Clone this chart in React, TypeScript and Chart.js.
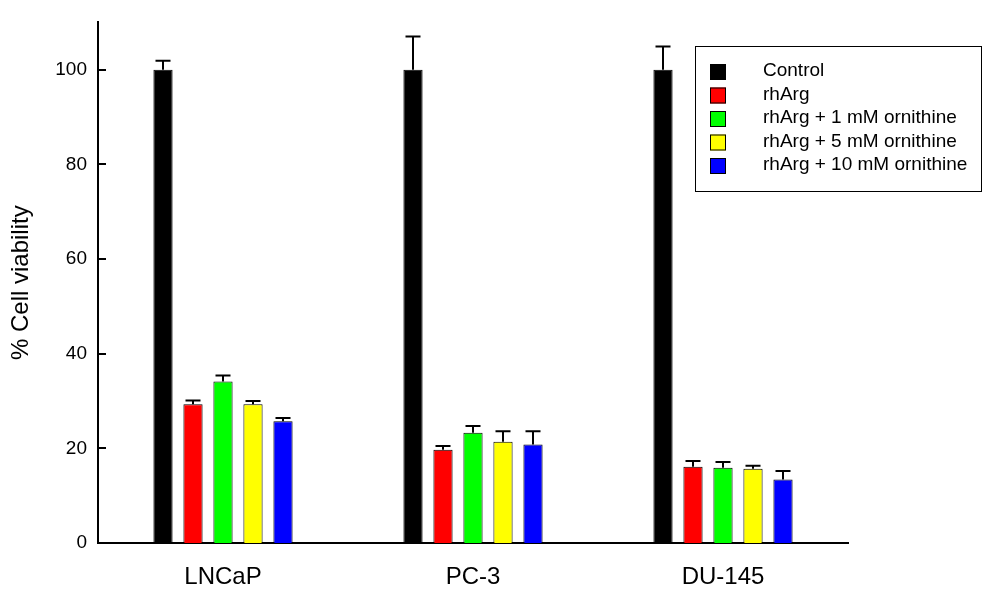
import { useEffect, useRef } from 'react';
import { Chart, registerables } from 'chart.js';

Chart.register(...registerables);

const cellLines = ['LNCaP', 'PC-3', 'DU-145'];
const treatments = [
  'Control',
  'rhArg',
  'rhArg + 1 mM ornithine',
  'rhArg + 5 mM ornithine',
  'rhArg + 10 mM ornithine',
];
const colors = ['#000000', '#ff0000', '#00ff00', '#ffff00', '#0000ff'];

// mean viability per treatment, one value per cell line
const control = [100, 100, 100];
const rhArg = [29.3, 19.7, 16.1];
const orn1 = [34.1, 23.3, 15.9];
const orn5 = [29.3, 21.4, 15.7];
const orn10 = [25.7, 20.8, 13.4];

// upper error bars (SEM)
const controlErr = [1.9, 7.0, 4.9];
const rhArgErr = [0.8, 0.8, 1.2];
const orn1Err = [1.3, 1.4, 1.2];
const orn5Err = [0.7, 2.2, 0.6];
const orn10Err = [0.7, 2.8, 1.8];

const yTicks = [0, 20, 40, 60, 80, 100];

const values = [control, rhArg, orn1, orn5, orn10];
const errors = [controlErr, rhArgErr, orn1Err, orn5Err, orn10Err];

const FONT = 'Arial, "Liberation Sans", sans-serif';

const errorBars = {
  id: 'errorBars',
  afterDatasetsDraw(chart: Chart) {
    const ctx = chart.ctx;
    const y = chart.scales.y;
    ctx.save();
    ctx.strokeStyle = '#000';
    ctx.lineWidth = 2;
    chart.data.datasets.forEach((ds: any, i: number) => {
      const meta = chart.getDatasetMeta(i);
      meta.data.forEach((bar: any, j: number) => {
        const top = y.getPixelForValue(ds.data[j] + ds.errors[j]);
        ctx.beginPath();
        ctx.moveTo(bar.x, bar.y);
        ctx.lineTo(bar.x, top);
        ctx.moveTo(bar.x - 7.5, top);
        ctx.lineTo(bar.x + 7.5, top);
        ctx.stroke();
      });
    });
    ctx.restore();
  },
};

// tick marks point into the plot area
const innerTicks = {
  id: 'innerTicks',
  afterDraw(chart: Chart) {
    const ctx = chart.ctx;
    const y = chart.scales.y;
    const left = chart.chartArea.left;
    ctx.save();
    ctx.strokeStyle = '#000';
    ctx.lineWidth = 2;
    yTicks.forEach((v) => {
      const py = Math.round(y.getPixelForValue(v));
      ctx.beginPath();
      ctx.moveTo(left, py);
      ctx.lineTo(left + 8, py);
      ctx.stroke();
    });
    ctx.restore();
  },
};

const boxLegend = {
  id: 'boxLegend',
  afterDraw(chart: Chart) {
    const ctx = chart.ctx;
    ctx.save();
    ctx.strokeStyle = '#000';
    ctx.lineWidth = 1;
    ctx.strokeRect(695.5, 46.5, 286, 145);
    ctx.font = `19px ${FONT}`;
    ctx.textBaseline = 'middle';
    ctx.textAlign = 'left';
    chart.data.datasets.forEach((ds: any, i: number) => {
      const top = 64 + i * 23.5;
      ctx.fillStyle = ds.backgroundColor;
      ctx.fillRect(710, top, 16, 16);
      ctx.strokeStyle = '#000';
      ctx.strokeRect(710.5, top + 0.5, 15, 15);
      ctx.fillStyle = '#000';
      ctx.fillText(ds.label, 763, top + 7);
    });
    ctx.restore();
  },
};

export default function App() {
  const chartRef = useRef<HTMLCanvasElement>(null);
  const chartInstance = useRef<Chart | null>(null);

  useEffect(() => {
    document.body.style.margin = '0';
    if (!chartRef.current) return;
    const ctx = chartRef.current.getContext('2d');
    if (!ctx) return;

    if (chartInstance.current) {
      chartInstance.current.destroy();
    }

    chartInstance.current = new Chart(ctx, {
      type: 'bar',
      data: {
        labels: cellLines,
        datasets: treatments.map((t, i) => ({
          label: t,
          data: values[i],
          errors: errors[i],
          backgroundColor: colors[i],
          borderColor: '#000',
          borderWidth: 1,
          categoryPercentage: 0.6,
          barPercentage: 0.64,
        })) as any,
      },
      options: {
        responsive: true,
        maintainAspectRatio: false,
        animation: false,
        layout: { padding: { left: 0, top: 20, right: 146, bottom: 0 } },
        plugins: {
          legend: { display: false },
          tooltip: { enabled: false },
        },
        scales: {
          x: {
            grid: { display: false, drawTicks: false },
            border: { display: true, color: '#000', width: 2 },
            ticks: {
              color: '#000',
              padding: 20,
              font: { family: FONT, size: 24 },
            },
            afterFit: (scale: any) => {
              scale.height = 61;
            },
          },
          y: {
            min: 0,
            max: 110,
            grid: { display: false, drawTicks: false },
            border: { display: true, color: '#000', width: 2 },
            ticks: {
              stepSize: 20,
              color: '#000',
              padding: 11,
              font: { family: FONT, size: 19 },
            },
            afterBuildTicks: (scale: any) => {
              scale.ticks = yTicks.map((v) => ({ value: v }));
            },
            afterFit: (scale: any) => {
              scale.width = 98;
            },
            title: {
              display: true,
              text: '% Cell viability',
              color: '#000',
              padding: { top: 7, bottom: 0 },
              font: { family: FONT, size: 24 },
            },
          },
        },
      },
      plugins: [errorBars, innerTicks, boxLegend],
    });

    return () => {
      if (chartInstance.current) {
        chartInstance.current.destroy();
        chartInstance.current = null;
      }
    };
  }, []);

  return (
    <div style={{ width: 994, height: 604, position: 'relative', background: '#fff' }}>
      <canvas ref={chartRef} />
    </div>
  );
}
